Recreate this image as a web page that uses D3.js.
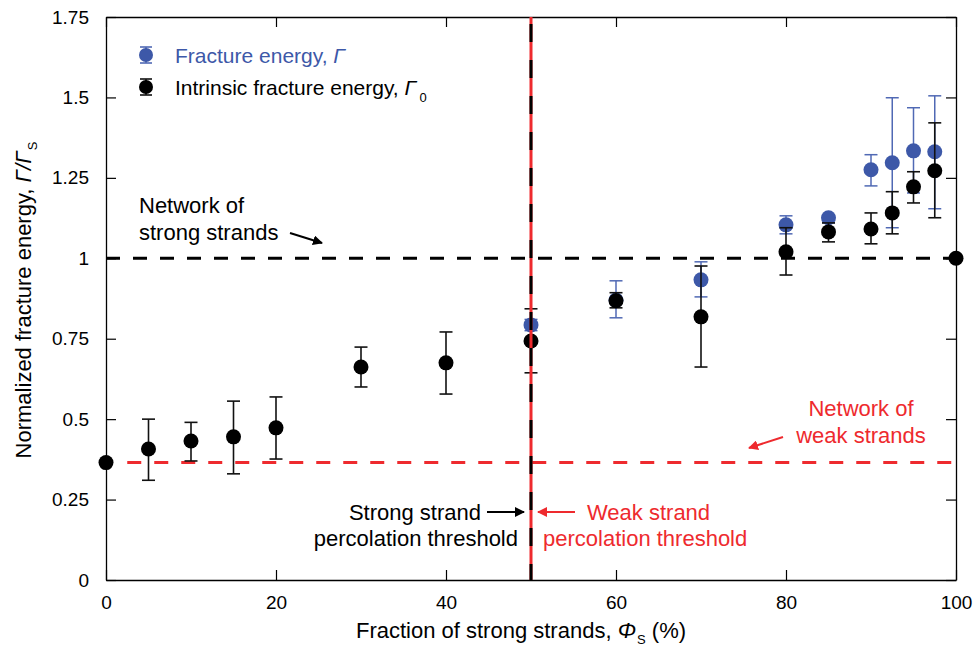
<!DOCTYPE html>
<html>
<head>
<meta charset="utf-8">
<script src="https://cdn.jsdelivr.net/npm/d3@7"></script>
<style>
  body { margin: 0; background: #fff; }
  text { font-family: "Liberation Sans", Arial, Helvetica, sans-serif; }
</style>
</head>
<body>
<script>
// intrinsic fracture energy (black)
var phi = [0, 5, 10, 15, 20, 30, 40, 50, 60, 70, 80, 85, 90, 92.5, 95, 97.5, 100];
var gamma0 = [0.365, 0.407, 0.432, 0.445, 0.473, 0.662, 0.675, 0.743, 0.868, 0.818, 1.02, 1.082, 1.091, 1.141, 1.222, 1.272, 1.0];
var gamma0Lo = [null, 0.31, 0.37, 0.33, 0.376, 0.60, 0.578, 0.644, 0.846, 0.662, 0.948, 1.051, 1.045, 1.076, 1.172, 1.126, null];
var gamma0Hi = [null, 0.50, 0.49, 0.556, 0.569, 0.724, 0.771, 0.843, 0.893, 0.976, 1.095, 1.11, 1.141, 1.207, 1.269, 1.421, null];

// fracture energy (blue)
var phiBlue = [50, 60, 70, 80, 85, 90, 92.5, 95, 97.5];
var gamma = [0.793, 0.87, 0.933, 1.104, 1.126, 1.275, 1.297, 1.334, 1.331];
var gammaLo = [0.775, 0.815, 0.88, 1.076, 1.11, 1.225, 1.095, 1.203, 1.154];
var gammaHi = [0.81, 0.93, 0.989, 1.132, 1.132, 1.322, 1.499, 1.468, 1.505];

var xTicks = [0, 20, 40, 60, 80, 100];
var yTicks = [0, 0.25, 0.5, 0.75, 1, 1.25, 1.5, 1.75];
var yTickLabels = ["0", "0.25", "0.5", "0.75", "1", "1.25", "1.5", "1.75"];

var strongLevel = 1.0, weakLevel = 0.365, threshold = 50;

var blue = "#3d58a8", blueBar = "#5069b4", red = "#ee2a2e";

var width = 975, height = 649;
var svg = d3.select("body").append("svg")
    .attr("width", width)
    .attr("height", height);

var x = d3.scaleLinear().domain([0, 100]).range([106, 956]);
var y = d3.scaleLinear().domain([0, 1.75]).range([580, 17]);

svg.append("defs").selectAll("marker")
    .data([["arrowK", "#000"], ["arrowR", red]])
    .enter().append("marker")
    .attr("id", function (d) { return d[0] })
    .attr("viewBox", "0 0 10 10")
    .attr("refX", 9).attr("refY", 5)
    .attr("markerWidth", 5).attr("markerHeight", 5)
    .attr("markerUnits", "strokeWidth")
    .attr("orient", "auto")
    .append("path")
    .attr("d", "M0,0L10,5L0,10z")
    .attr("fill", function (d) { return d[1] });

/* axes: ticks inside, on all four sides */
var tickLen = 10;
var tickFont = 19;
var textFont = 22;
var axB = svg.append("g").attr("transform", "translate(0," + y(0) + ")")
    .call(d3.axisBottom(x).tickValues(xTicks).tickSizeInner(-tickLen).tickSizeOuter(0).tickPadding(16));
var axT = svg.append("g").attr("transform", "translate(0," + y(1.75) + ")")
    .call(d3.axisTop(x).tickValues(xTicks).tickSizeInner(-tickLen).tickSizeOuter(0).tickFormat(""));
var axL = svg.append("g").attr("transform", "translate(" + x(0) + ",0)")
    .call(d3.axisLeft(y).tickValues(yTicks).tickSizeInner(-tickLen).tickSizeOuter(0).tickPadding(17)
        .tickFormat(function (d, i) { return yTickLabels[i] }));
var axR = svg.append("g").attr("transform", "translate(" + x(100) + ",0)")
    .call(d3.axisRight(y).tickValues(yTicks).tickSizeInner(-tickLen).tickSizeOuter(0).tickFormat(""));

[axB, axT, axL, axR].forEach(function (a) {
    a.select(".domain").attr("stroke", "#000").attr("stroke-width", 1.3);
    a.selectAll(".tick line").attr("stroke", "#000").attr("stroke-width", 1.2);
    a.selectAll(".tick text").attr("font-size", tickFont).attr("fill", "#000")
        .style("font-family", "'Liberation Sans', Arial, sans-serif");
});

/* reference lines */
svg.append("line")
    .attr("x1", x(0)).attr("x2", x(100))
    .attr("y1", y(strongLevel)).attr("y2", y(strongLevel))
    .attr("stroke", "#000").attr("stroke-width", 3)
    .attr("stroke-dasharray", "14,13");
svg.append("line")
    .attr("x1", x(2.5)).attr("x2", x(100))
    .attr("y1", y(weakLevel)).attr("y2", y(weakLevel))
    .attr("stroke", red).attr("stroke-width", 3)
    .attr("stroke-dasharray", "14,13");

/* error bars + points */
function errorBars(xs, lo, hi, color, w) {
    var g = svg.append("g").attr("stroke", color).attr("stroke-width", w);
    xs.forEach(function (v, i) {
        if (lo[i] == null) return;
        g.append("line").attr("x1", x(v)).attr("x2", x(v)).attr("y1", y(lo[i])).attr("y2", y(hi[i]));
        [lo[i], hi[i]].forEach(function (e) {
            g.append("line").attr("x1", x(v) - 6.5).attr("x2", x(v) + 6.5).attr("y1", y(e)).attr("y2", y(e));
        });
    });
}

errorBars(phiBlue, gammaLo, gammaHi, blueBar, 1.5);
svg.append("g").selectAll("circle").data(phiBlue).enter().append("circle")
    .attr("cx", function (d) { return x(d) })
    .attr("cy", function (d, i) { return y(gamma[i]) })
    .attr("r", 7.5).attr("fill", blue);

errorBars(phi, gamma0Lo, gamma0Hi, "#111", 1.6);
svg.append("g").selectAll("circle").data(phi).enter().append("circle")
    .attr("cx", function (d) { return x(d) })
    .attr("cy", function (d, i) { return y(gamma0[i]) })
    .attr("r", 7.5).attr("fill", "#000");

/* percolation threshold: red line with black dashes on it */
svg.append("line")
    .attr("x1", x(threshold)).attr("x2", x(threshold))
    .attr("y1", y(1.75)).attr("y2", y(0))
    .attr("stroke", red).attr("stroke-width", 3);
svg.append("line")
    .attr("x1", x(threshold)).attr("x2", x(threshold))
    .attr("y1", y(1.75)).attr("y2", y(0))
    .attr("stroke", "#000").attr("stroke-width", 3)
    .attr("stroke-dasharray", "18,18").attr("stroke-dashoffset", -7);

/* legend */
var legend = [
    { label: "Fracture energy, ", sym: "Γ", sub: "", color: blue, bar: blueBar, textColor: blue },
    { label: "Intrinsic fracture energy, ", sym: "Γ", sub: "0", color: "#000", bar: "#111", textColor: "#000" }
];
var lg = svg.append("g").selectAll("g").data(legend).enter().append("g")
    .attr("transform", function (d, i) { return "translate(146," + (55 + i * 32) + ")" });
lg.append("line").attr("x1", 0).attr("x2", 0).attr("y1", -8).attr("y2", 8)
    .attr("stroke", function (d) { return d.bar }).attr("stroke-width", 1.6);
lg.append("line").attr("x1", -6).attr("x2", 6).attr("y1", -8).attr("y2", -8)
    .attr("stroke", function (d) { return d.bar }).attr("stroke-width", 1.6);
lg.append("line").attr("x1", -6).attr("x2", 6).attr("y1", 8).attr("y2", 8)
    .attr("stroke", function (d) { return d.bar }).attr("stroke-width", 1.6);
lg.append("circle").attr("r", 7).attr("fill", function (d) { return d.color });
var lt = lg.append("text").attr("x", 29).attr("y", 7.5)
    .attr("font-size", 21).attr("fill", function (d) { return d.textColor });
lt.append("tspan").text(function (d) { return d.label });
lt.append("tspan").attr("font-style", "italic").text(function (d) { return d.sym });
lt.append("tspan").attr("font-size", 13).attr("dy", 7).attr("dx", 3).text(function (d) { return d.sub });

/* annotations */
function multiline(xp, yp, lines, anchor, color) {
    var t = svg.append("text").attr("font-size", textFont).attr("fill", color).attr("text-anchor", anchor);
    lines.forEach(function (l, i) {
        t.append("tspan").attr("x", xp).attr("y", yp + i * 27).text(l);
    });
}
function arrow(x1, y1, x2, y2, color, id) {
    svg.append("line").attr("x1", x1).attr("y1", y1).attr("x2", x2).attr("y2", y2)
        .attr("stroke", color).attr("stroke-width", 2)
        .attr("marker-end", "url(#" + id + ")");
}

multiline(139, 213, ["Network of", "strong strands"], "start", "#000");
arrow(290, 233, 322, 243, "#000", "arrowK");

multiline(861, 416, ["Network of", "weak strands"], "middle", red);
arrow(783, 437, 749, 448, red, "arrowR");

svg.append("text").attr("x", 481).attr("y", 520).attr("font-size", textFont).attr("text-anchor", "end").text("Strong strand");
svg.append("text").attr("x", 518).attr("y", 546).attr("font-size", textFont).attr("text-anchor", "end").text("percolation threshold");
arrow(487, 512, 524, 512, "#000", "arrowK");

svg.append("text").attr("x", 587).attr("y", 520).attr("font-size", textFont).attr("fill", red).text("Weak strand");
svg.append("text").attr("x", 543).attr("y", 546).attr("font-size", textFont).attr("fill", red).text("percolation threshold");
arrow(575, 512, 538, 512, red, "arrowR");

/* axis titles */
var xt = svg.append("text").attr("x", 521).attr("y", 638).attr("font-size", textFont).attr("text-anchor", "middle");
xt.append("tspan").text("Fraction of strong strands, ");
xt.append("tspan").attr("font-style", "italic").text("Φ");
xt.append("tspan").attr("font-size", 13).attr("dy", 6).attr("dx", 1).text("S");
xt.append("tspan").attr("dy", -6).text(" (%)");

var yt = svg.append("text").attr("transform", "translate(31,300) rotate(-90)")
    .attr("font-size", textFont).attr("text-anchor", "middle");
yt.append("tspan").text("Normalized fracture energy, ");
yt.append("tspan").attr("font-style", "italic").text("Γ/Γ");
yt.append("tspan").attr("font-size", 13).attr("dy", 6).attr("dx", 1).text("S");
</script>
</body>
</html>
